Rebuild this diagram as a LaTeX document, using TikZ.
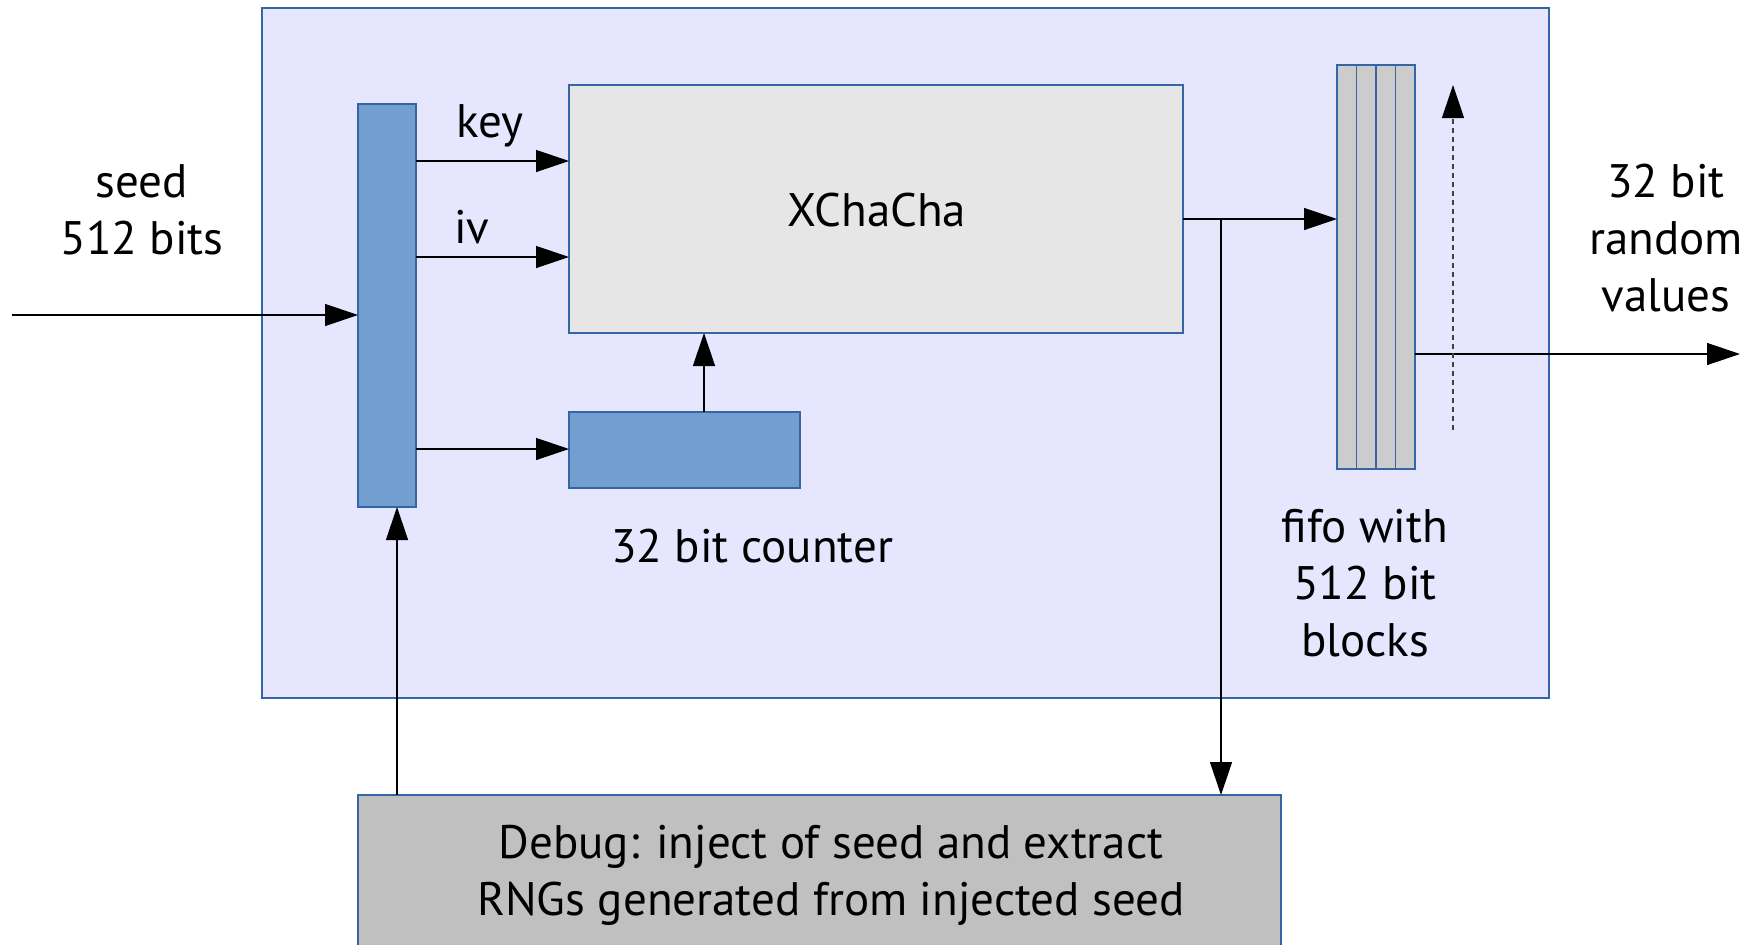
\documentclass[tikz,border=0pt]{standalone}
\usepackage{fontspec}
\setmainfont{PT Sans}
\usetikzlibrary{arrows.meta}
\definecolor{outerfill}{HTML}{E6E6FF}
\definecolor{edgeblue}{HTML}{3465A4}
\definecolor{blockblue}{HTML}{729FCF}
\definecolor{corefill}{HTML}{E6E6E6}
\definecolor{stripfill}{HTML}{CCCCCC}
\definecolor{debugfill}{HTML}{C0C0C0}
\tikzset{
  box/.style={draw=edgeblue, line width=1.2pt, inner sep=0pt, outer sep=0pt},
  link/.style={line width=1.3pt, -{Triangle[length=33pt,width=22pt]}},
  lbl/.style={font=\fontsize{47}{57}\selectfont, align=center, inner sep=0pt},
}
\begin{document}
\begin{tikzpicture}[x=1pt,y=-1pt]
\useasboundingbox (0,0) rectangle (1757,945);
% enclosing generator block
\node[box, fill=outerfill, minimum width=1287pt, minimum height=690pt] (outer) at (905.5,353) {};
% seed splitter
\node[box, fill=blockblue, minimum width=58pt, minimum height=403pt] (split) at (387,305.5) {};
% cipher core
\node[box, fill=corefill, minimum width=614pt, minimum height=248pt] (core) at (876,209) {};
\node[lbl] (coretxt) at (877,210) {XChaCha};
% counter
\node[box, fill=blockblue, minimum width=231pt, minimum height=76pt] (ctr) at (684.5,450) {};
\node[lbl] (ctrtxt) at (752,546) {32 bit counter};
% fifo strips
\foreach \i/\x in {1/1346.75, 2/1366.25, 3/1385.75, 4/1405.25}
  \node[box, fill=stripfill, minimum width=19.5pt, minimum height=404pt] (f\i) at (\x,267) {};
\node[lbl] (fifotxt) at (1365,583) {fifo with\\512 bit\\blocks};
% debug interface
\node[box, fill=debugfill, minimum width=923pt, minimum height=220pt] (dbg) at (819.5,905) {};
\node[lbl] (dbgtxt) at (831,875) {Debug: inject of seed and extract\\RNGs generated from injected seed};
% outside labels
\node[lbl] (seedtxt) at (142,210) {seed\\512 bits};
\node[lbl] (outtxt) at (1666,238) {32 bit\\random\\values};
\node[lbl] (keytxt) at (490,126) {key};
\node[lbl] (ivtxt) at (472,227) {iv};
% connector anchors
\coordinate (seedin) at (12,315);
\coordinate (keyy) at (0,161);
\coordinate (ivy) at (0,257);
\coordinate (cnty) at (0,449);
\coordinate (strm) at (0,219);
\coordinate (tap) at (1221,219);
\coordinate (upx) at (397,0);
\coordinate (ctrx) at (704,0);
\coordinate (outy) at (0,354);
\coordinate (outend) at (1740,354);
\coordinate (scanlo) at (1453,430);
\coordinate (scanhi) at (1453,85);
% connectors
\draw[link] (seedin) -- (seedin -| split.west);
\draw[link] (split.east |- keyy) -- (core.west |- keyy);
\draw[link] (split.east |- ivy) -- (core.west |- ivy);
\draw[link] (split.east |- cnty) -- (ctr.west |- cnty);
\draw[link] (ctr.north -| ctrx) -- (core.south -| ctrx);
\draw[link] (core.east |- strm) -- (f1.west |- strm);
\draw[link] (tap) -- (tap |- dbg.north);
\draw[link] (dbg.north -| upx) -- (split.south -| upx);
\draw[link] (f4.east |- outy) -- (outend);
\draw[line width=1.2pt, dash pattern=on 5pt off 4pt, gray!50!black, -{Triangle[length=33pt,width=22pt,black]}] (scanlo) -- (scanhi);
\end{tikzpicture}
\end{document}
